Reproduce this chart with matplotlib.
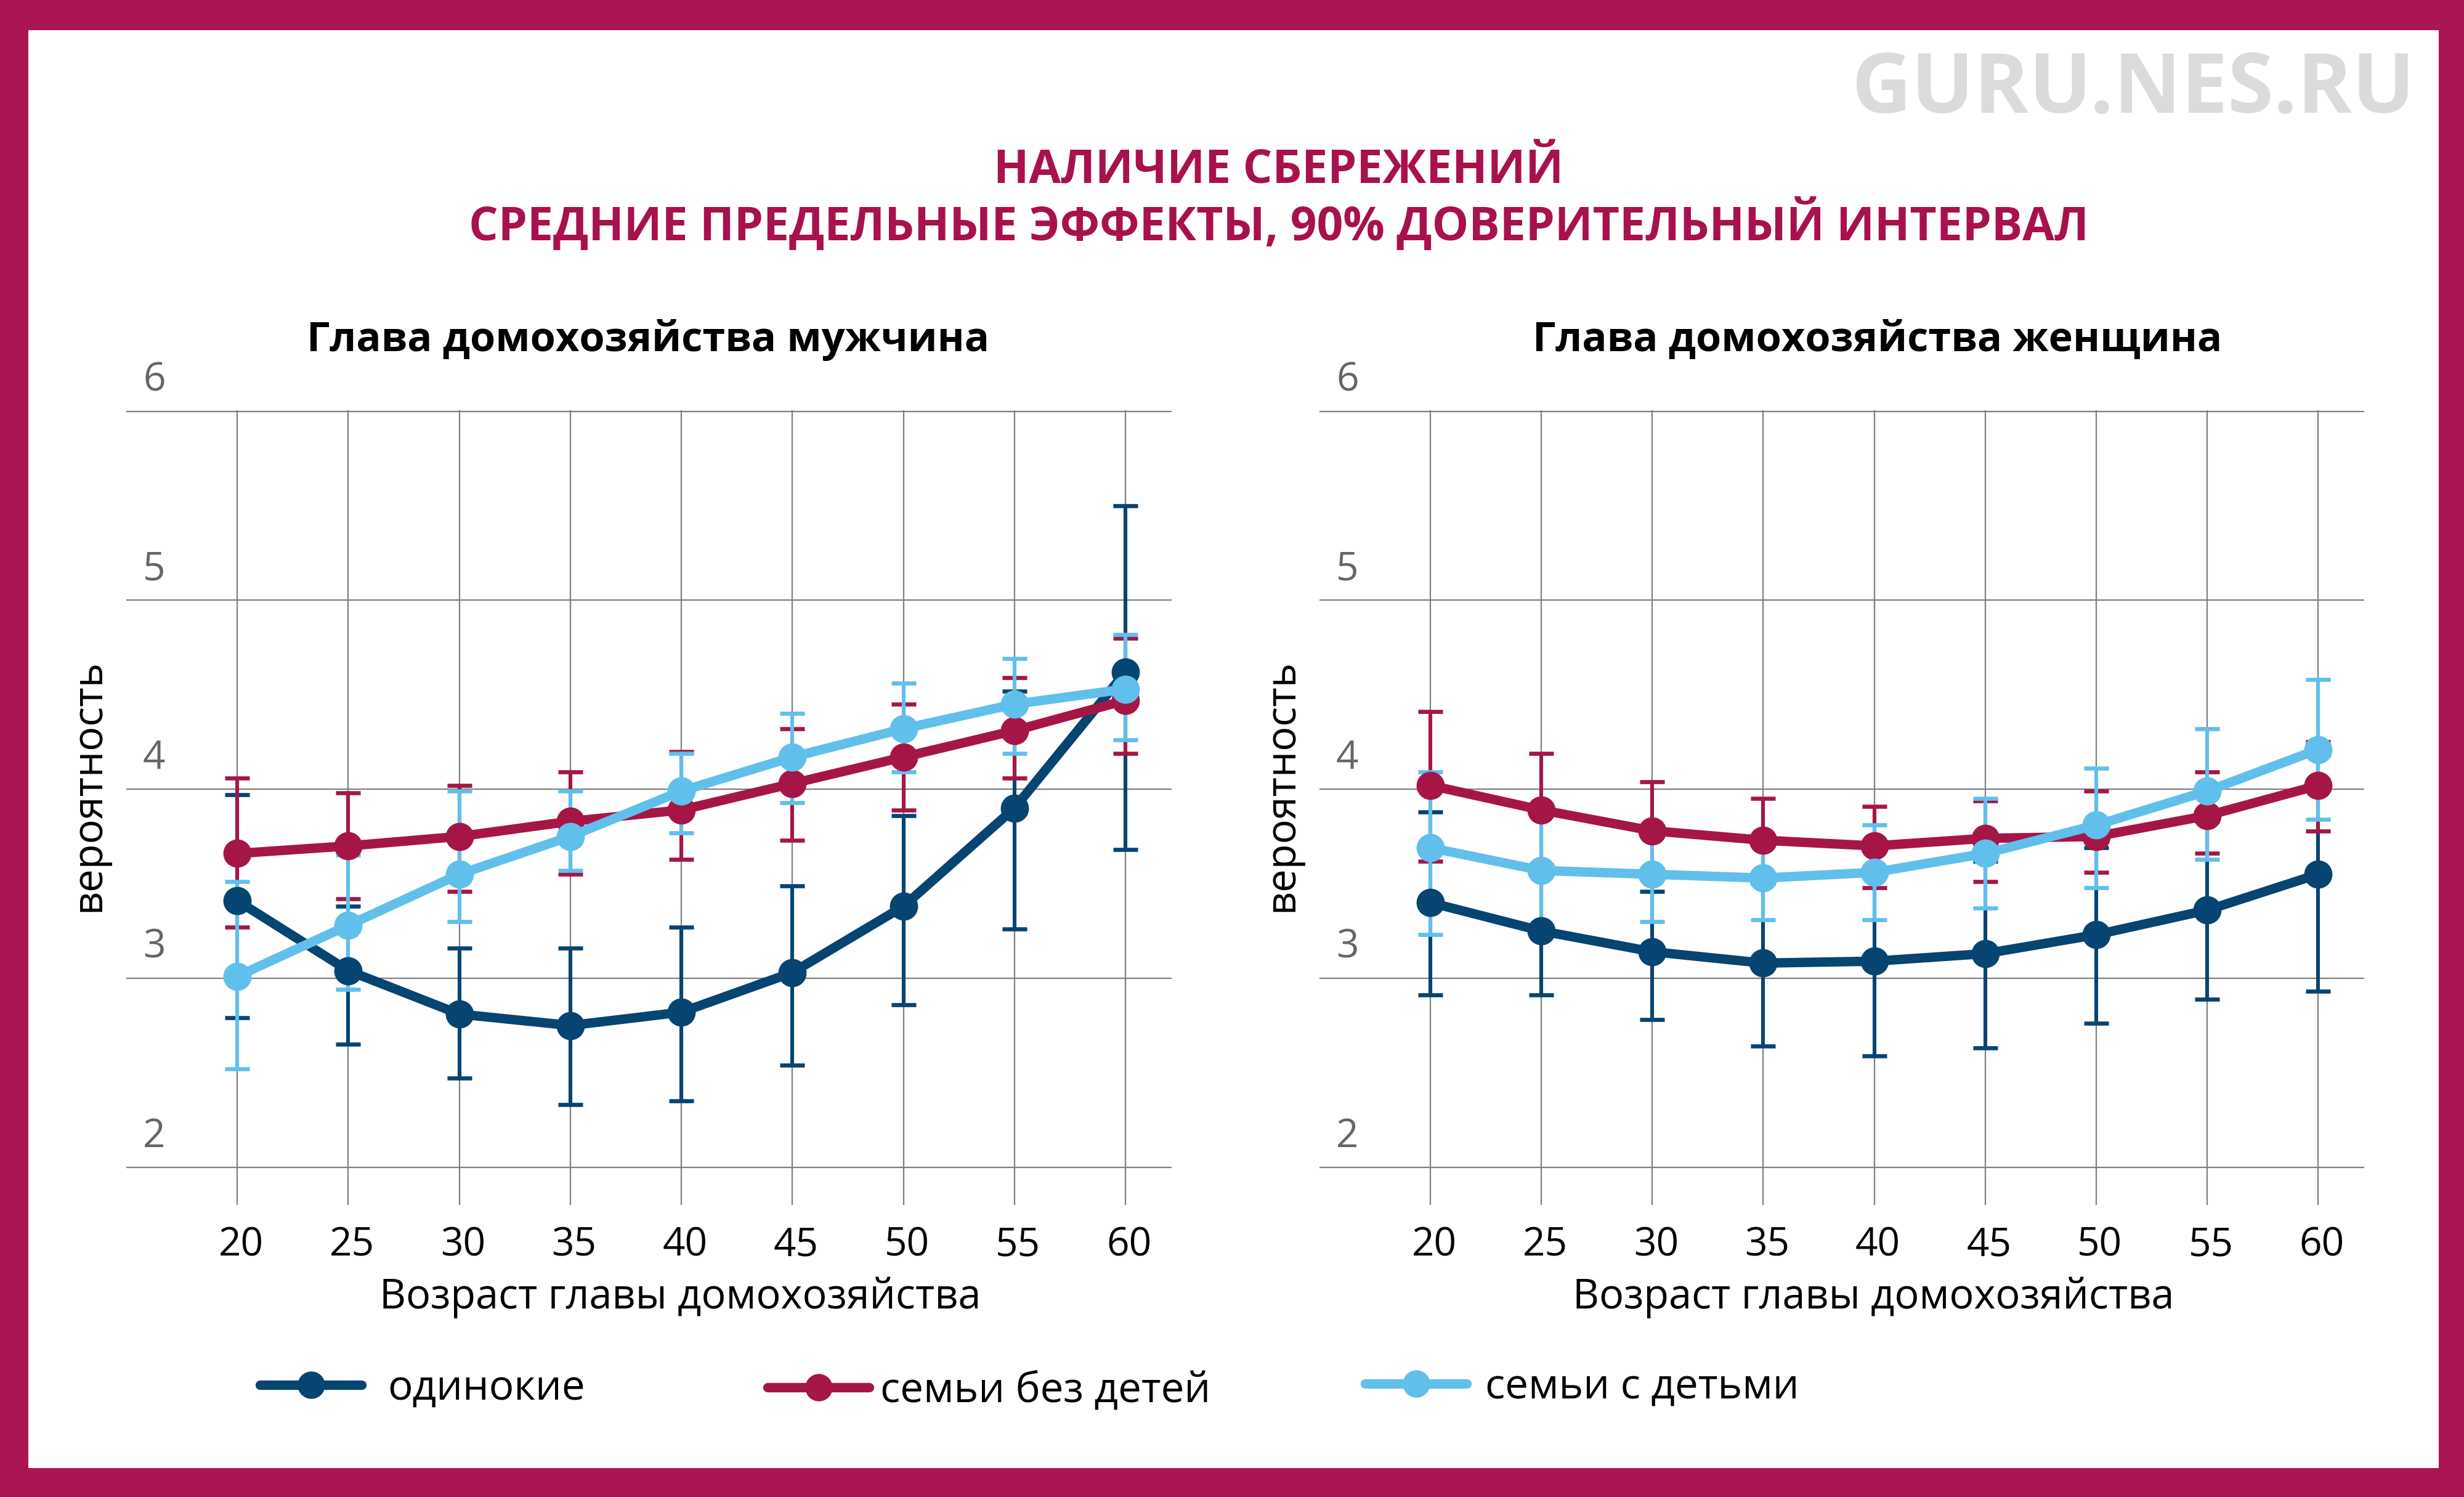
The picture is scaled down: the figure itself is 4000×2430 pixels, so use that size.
import matplotlib
matplotlib.use("Agg")
import matplotlib.pyplot as plt
from matplotlib.patches import Rectangle
from matplotlib.lines import Line2D
from matplotlib.transforms import ScaledTranslation
import numpy as np

FONT = ['Open Sans', 'DejaVu Sans']
plt.rcParams['font.family'] = FONT

# ---------------- data ----------------
ages = [20, 25, 30, 35, 40, 45, 50, 55, 60]
x_ticks = [20, 25, 30, 35, 40, 45, 50, 55, 60]
y_ticks = [2, 3, 4, 5, 6]

# head of household: man
single_m = [3.41, 3.04, 2.81, 2.75, 2.82, 3.03, 3.38, 3.90, 4.62]
single_m_lo = [2.79, 2.65, 2.47, 2.33, 2.35, 2.54, 2.86, 3.26, 3.68]
single_m_hi = [3.97, 3.38, 3.16, 3.16, 3.27, 3.49, 3.86, 4.52, 5.50]
nokids_m = [3.66, 3.70, 3.75, 3.83, 3.89, 4.03, 4.17, 4.31, 4.47]
nokids_m_lo = [3.27, 3.42, 3.46, 3.55, 3.63, 3.73, 3.89, 4.06, 4.19]
nokids_m_hi = [4.06, 3.98, 4.02, 4.09, 4.20, 4.32, 4.45, 4.59, 4.80]
kids_m = [3.01, 3.28, 3.55, 3.75, 3.99, 4.17, 4.32, 4.45, 4.53]
kids_m_lo = [2.52, 2.94, 3.30, 3.57, 3.77, 3.93, 4.09, 4.19, 4.26]
kids_m_hi = [3.51, 3.65, 3.99, 3.99, 4.19, 4.40, 4.56, 4.69, 4.82]

# head of household: woman
single_f = [3.40, 3.25, 3.14, 3.08, 3.09, 3.13, 3.23, 3.36, 3.55]
single_f_lo = [2.91, 2.91, 2.78, 2.64, 2.59, 2.63, 2.76, 2.89, 2.93]
single_f_hi = [3.88, 3.60, 3.46, 3.50, 3.55, 3.62, 3.69, 3.83, 4.18]
nokids_f = [4.02, 3.89, 3.78, 3.73, 3.70, 3.74, 3.75, 3.86, 4.02]
nokids_f_lo = [3.62, 3.58, 3.53, 3.51, 3.48, 3.51, 3.56, 3.66, 3.78]
nokids_f_hi = [4.41, 4.19, 4.04, 3.95, 3.91, 3.94, 3.99, 4.09, 4.25]
kids_f = [3.69, 3.57, 3.55, 3.53, 3.56, 3.66, 3.81, 3.99, 4.21]
kids_f_lo = [3.23, 3.25, 3.30, 3.31, 3.31, 3.37, 3.48, 3.63, 3.84]
kids_f_hi = [4.09, 3.87, 3.78, 3.74, 3.81, 3.95, 4.11, 4.32, 4.58]

series_names = ['одинокие', 'семьи без детей', 'семьи с детьми']
title_line1 = 'НАЛИЧИЕ СБЕРЕЖЕНИЙ'
title_line2 = 'СРЕДНИЕ ПРЕДЕЛЬНЫЕ ЭФФЕКТЫ, 90% ДОВЕРИТЕЛЬНЫЙ ИНТЕРВАЛ'
panel_titles = ['Глава домохозяйства мужчина', 'Глава домохозяйства женщина']
x_label = 'Возраст главы домохозяйства'
y_label = 'вероятность'
watermark = 'GURU.NES.RU'

# ---------------- style ----------------
C_DARK = '#064472'
C_RED = '#A51646'
C_LIGHT = '#61BFEC'
C_BORDER = '#AB1554'
C_TITLE = '#A8114E'
C_GRID = '#808080'
colors = [C_DARK, C_RED, C_LIGHT]

fig = plt.figure(figsize=(40, 24.3), dpi=100)
fig.patch.set_facecolor(C_BORDER)
fig.patches.append(Rectangle((0.0115, 0.0193), 0.98975 - 0.0115, 0.9798 - 0.0193,
                             transform=fig.transFigure, facecolor='white',
                             edgecolor='none', zorder=-10))

panels = [
    ([single_m, nokids_m, kids_m],
     [single_m_lo, nokids_m_lo, kids_m_lo],
     [single_m_hi, nokids_m_hi, kids_m_hi]),
    ([single_f, nokids_f, kids_f],
     [single_f_lo, nokids_f_lo, kids_f_lo],
     [single_f_hi, nokids_f_hi, kids_f_hi]),
]
axes_rects = [[0.05125, 0.19506, 0.42425, 0.53086],
              [0.5355, 0.19506, 0.4240, 0.53086]]
title_x = [0.263, 0.762]

LW = 11.0
MS = 33
for k, (rect, (vals, los, his)) in enumerate(zip(axes_rects, panels)):
    ax = fig.add_axes(rect)
    ax.set_facecolor('none')
    for s in ax.spines.values():
        s.set_visible(False)
    ax.set_xlim(15, 62.08)
    ax.set_ylim(1.8, 6.005)
    ax.set_xticks(x_ticks)
    ax.set_yticks(y_ticks)
    ax.grid(True, color=C_GRID, linewidth=1.6, zorder=0)
    ax.set_axisbelow(True)
    ax.tick_params(axis='both', length=0)
    ax.tick_params(axis='x', pad=24, labelsize=46, labelcolor='black')
    ax.tick_params(axis='y', pad=0, labelsize=46, labelcolor='#666666')
    ax.set_xticklabels([str(t) for t in x_ticks])
    ax.set_yticklabels([str(t) for t in y_ticks])
    off = ScaledTranslation(27 / 100, 18 / 100, fig.dpi_scale_trans)
    for lab in ax.get_yticklabels():
        lab.set_horizontalalignment('left')
        lab.set_verticalalignment('bottom')
        lab.set_transform(lab.get_transform() + off)
    xoff = ScaledTranslation(6 / 100, 0, fig.dpi_scale_trans)
    for lab in ax.get_xticklabels():
        lab.set_transform(lab.get_transform() + xoff)

    # error bars first
    for v, lo, hi, c in zip(vals, los, his, colors):
        v = np.asarray(v); lo = np.asarray(lo); hi = np.asarray(hi)
        ax.errorbar(ages, v, yerr=[v - lo, hi - v], fmt='none', ecolor=c,
                    elinewidth=4.4, capsize=14.5, capthick=4.8, zorder=2)
    for v, c, name in zip(vals, colors, series_names):
        ax.plot(ages, v, '-', color=c, linewidth=LW, marker='o',
                markersize=MS, markeredgewidth=0, zorder=3, label=name,
                solid_capstyle='round')

    ax.set_xlabel(x_label, fontsize=48)
    ax.xaxis.set_label_coords(0.53, -0.090)
    ax.xaxis.label.set_va('top')
    ax.set_ylabel(y_label, fontsize=48)
    ax.yaxis.label.set_va('center')
    ax.yaxis.set_label_coords(-0.036, 0.528)

    fig.text(title_x[k], 0.7654, panel_titles[k], ha='center', va='baseline',
             fontsize=48, fontweight='bold', color='black')

# titles
fig.text(0.519, 0.8774, title_line1, ha='center', va='baseline', fontsize=54,
         fontweight='bold', color=C_TITLE)
fig.text(0.519, 0.8395, title_line2, ha='center', va='baseline', fontsize=54,
         fontweight='bold', color=C_TITLE)
fig.text(0.980, 0.9247, watermark, ha='right', va='baseline', fontsize=97,
         fontweight='bold', color='#DBDBDB')

# legend: three entries placed individually
leg_x = [0.1055, 0.3115, 0.554]
leg_y = [0.0725, 0.071, 0.0735]
leg_pad = [0.62, 0.27, 0.45]
for c, name, lx, ly, pad in zip(colors, series_names, leg_x, leg_y, leg_pad):
    h = Line2D([], [], color=c, linewidth=11, marker='o', markersize=32,
               markeredgewidth=0, solid_capstyle='round')
    fig.legend([h], [name], loc='center left', bbox_to_anchor=(lx, ly),
               frameon=False, fontsize=48.5, handlelength=2.45,
               handletextpad=pad, borderpad=0, borderaxespad=0)

fig.savefig('out.png', dpi=100, facecolor=fig.get_facecolor())
